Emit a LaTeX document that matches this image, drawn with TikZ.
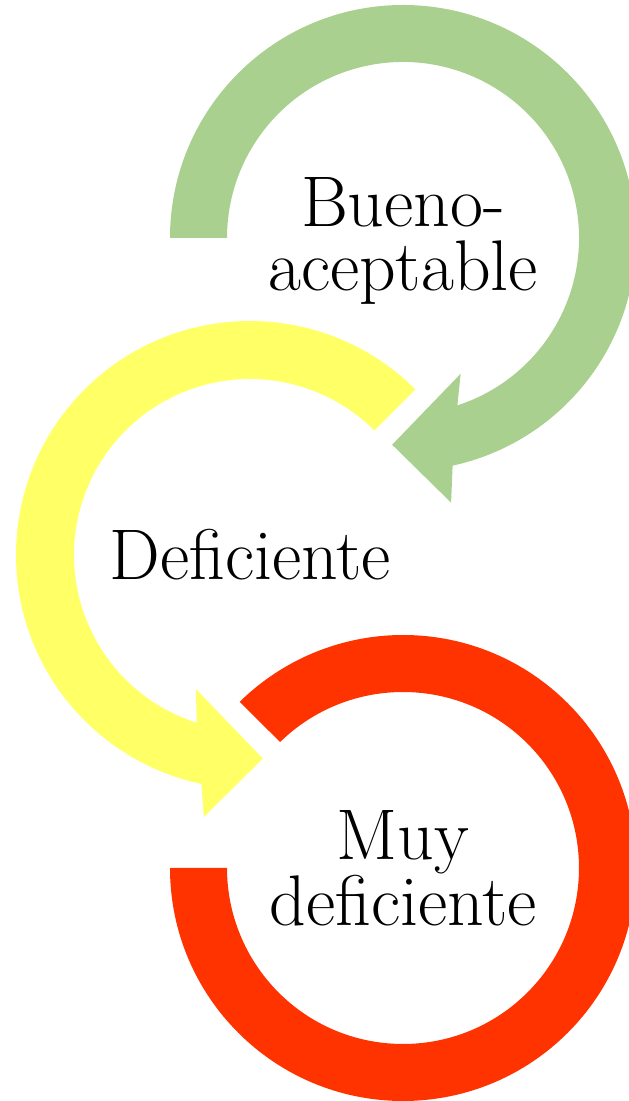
\documentclass[tikz,border=0pt]{standalone}
\usepackage{tikz}

\definecolor{ringgreen}{RGB}{169,208,142}
\definecolor{ringyellow}{RGB}{255,255,102}
\definecolor{ringred}{RGB}{255,51,0}

\begin{document}
\begin{tikzpicture}[x=0.025cm,y=0.025cm,
  text node/.style={align=center,inner sep=0pt,font=\fontsize{51}{46}\selectfont},
  ring/.style={draw=none}]

  \useasboundingbox (0,0) rectangle (629,1101);

  \node[text node] (bueno) at (403,860) {Bueno-\\aceptable};
  \node[text node] (deficiente) at (250,546) {Deficiente};
  \node[text node] (muy) at (403,233) {Muy\\deficiente};

  \fill[ring, ringgreen, shift={(403,863)}]
    (180:233) arc[start angle=180, end angle=-77.7, radius=233]
    -- (-79.7:269) -- (-93:207) -- (-67:147.5) -- (-72:176)
    arc[start angle=-72, end angle=180, radius=176] -- cycle;
  \fill[ring, ringyellow, shift={(deficiente.center)}]
    (45:234) arc[start angle=45, end angle=258, radius=234]
    -- (260:266) -- (273.6:204) -- (248:144.5) -- (252.4:176)
    arc[start angle=252.4, end angle=45, radius=176] -- cycle;
  \fill[ring, ringred, shift={(muy.center)}]
    (180:233) arc[start angle=180, end angle=494.5, radius=233]
    -- (134.3:176) arc[start angle=134.3, end angle=-180, radius=176] -- cycle;
\end{tikzpicture}
\end{document}
